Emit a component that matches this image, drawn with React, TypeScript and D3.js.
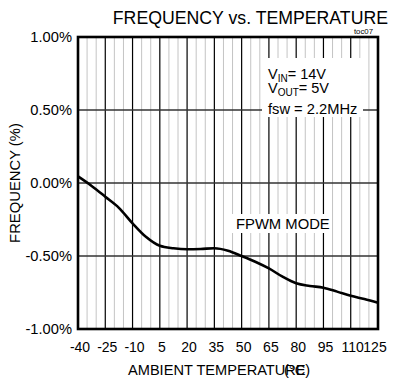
import React from "react";
import * as d3 from "d3";

const temps = [-40, -32.5, -25, -17.5, -10, -2.5, 5, 12.5, 20, 27.5, 35, 42.5, 50, 57.5, 65, 72.5, 80, 87.5, 95, 102.5, 110, 117.5, 125];
const freq = [0.045, -0.02, -0.094, -0.17, -0.276, -0.37, -0.43, -0.447, -0.454, -0.452, -0.447, -0.464, -0.5, -0.539, -0.585, -0.642, -0.687, -0.705, -0.717, -0.744, -0.772, -0.795, -0.82];
const xTicks = [-40, -25, -10, 5, 20, 35, 50, 65, 80, 95, 110, 125];
const yTicks = [1, 0.5, 0, -0.5, -1];
const yTickLabels = ["1.00%", "0.50%", "0.00%", "-0.50%", "-1.00%"];

const FONT = "Liberation Sans, Arial, Helvetica, sans-serif";

export default function App() {
  const x = d3.scaleLinear().domain([-40, 125]).range([78, 378]);
  const y = d3.scaleLinear().domain([-1, 1]).range([329, 37]);
  const minor = d3.range(-40, 126, 5).filter((v) => (v + 40) % 15 !== 0);
  const line = d3
    .line<number>()
    .x((_, i) => x(temps[i]))
    .y((d) => y(d))
    .curve(d3.curveMonotoneX);

  return (
    <svg width={395} height={383} style={{ position: "absolute", left: 0, top: 0, background: "#fff" }} fontFamily={FONT}>
      {minor.map((v) => (
        <line key={"m" + v} x1={x(v)} x2={x(v)} y1={y(1)} y2={y(-1)} stroke="#c4c4c4" strokeWidth={1} />
      ))}
      {xTicks.map((v) => (
        <line key={"M" + v} x1={x(v)} x2={x(v)} y1={y(1)} y2={y(-1)} stroke="#000" strokeWidth={1.2} />
      ))}
      {yTicks.map((v) => (
        <line key={"h" + v} x1={x(-40)} x2={x(125)} y1={y(v)} y2={y(v)} stroke="#333" strokeWidth={1.3} />
      ))}
      {/* label backgrounds */}
      <rect x={262} y={58} width={101} height={59} fill="#fff" />
      <rect x={224} y={214} width={108} height={19} fill="#fff" />
      <path d={line(freq) || ""} fill="none" stroke="#000" strokeWidth={2.6} strokeLinejoin="round" />
      <rect x={x(-40)} y={y(1)} width={x(125) - x(-40)} height={y(-1) - y(1)} fill="none" stroke="#000" strokeWidth={2.6} />
      {yTicks.map((v, i) => (
        <text key={"yl" + v} x={72} y={y(v) + 5} textAnchor="end" fontSize={14.7}>
          {yTickLabels[i]}
        </text>
      ))}
      {xTicks.map((v, i) => (
        <text key={"xl" + v} x={x(v) + (i === xTicks.length - 1 ? -3 : 2)} y={352} textAnchor="middle" fontSize={14}>
          {v}
        </text>
      ))}
      <text x={388} y={24} textAnchor="end" fontSize={17.7}>FREQUENCY vs. TEMPERATURE</text>
      <text x={373} y={34} textAnchor="end" fontSize={7.8}>toc07</text>
      <text x={268} y={79} fontSize={14.5}>
        V<tspan fontSize={10} dy={3}>IN</tspan>
        <tspan dy={-3}>= 14V</tspan>
      </text>
      <text x={268} y={93} fontSize={14.5}>
        V<tspan fontSize={10} dy={3}>OUT</tspan>
        <tspan dy={-3}>= 5V</tspan>
      </text>
      <text x={268} y={114} fontSize={14.7}>fsw = 2.2MHz</text>
      <text x={236} y={229} fontSize={14.8}>FPWM MODE</text>
      <text transform="translate(20,183) rotate(-90)" textAnchor="middle" fontSize={14.8}>FREQUENCY (%)</text>
      <text x={128} y={375} fontSize={14.6}>AMBIENT TEMPERATURE</text>
      <text x={284} y={375} fontSize={14.6}>(°C)</text>
    </svg>
  );
}
